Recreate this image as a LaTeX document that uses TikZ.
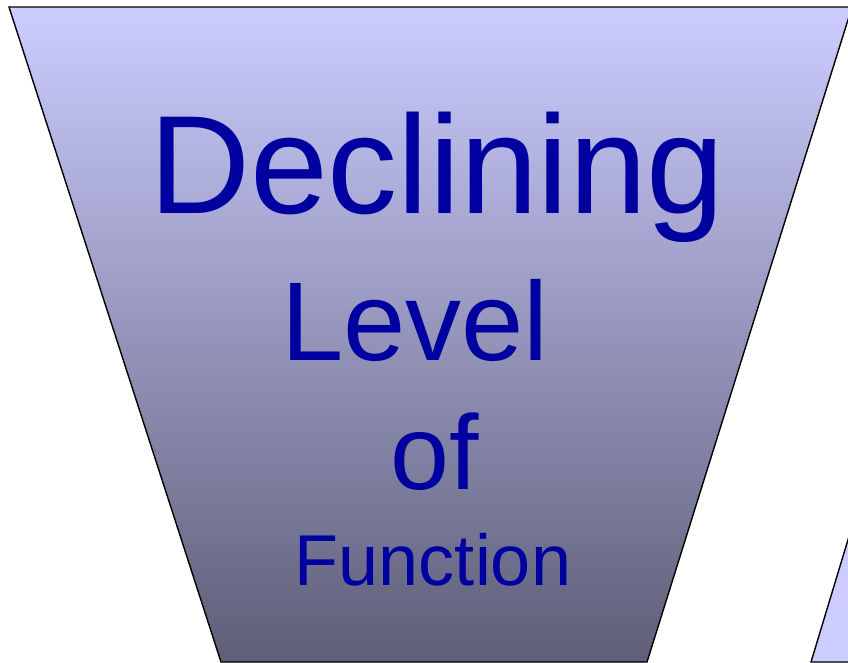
\documentclass[tikz,border=0pt]{standalone}
\usepackage{fontspec}
\setmainfont{Liberation Sans}
\usetikzlibrary{positioning}
\definecolor{lavender}{RGB}{204,204,255}
\definecolor{slate}{RGB}{94,94,120}
\definecolor{inkblue}{RGB}{0,0,160}

\begin{document}
\begin{tikzpicture}[x=1pt,y=-1pt,
  edge/.style={draw=black,line width=1.4pt},
  funnel/.style={edge,top color=lavender,bottom color=slate},
  word/.style={text=inkblue,inner sep=0pt,anchor=base}]
\useasboundingbox (0,0) rectangle (848,662);
\clip (0,0) rectangle (848,662);
% the funnel and the next shape peeking in
\draw[funnel] (9,7) -- (852,7) -- (647,662) -- (221,662) -- cycle;
\draw[edge,fill=lavender] (811,662) -- (870,467) -- (900,467) -- (900,662) -- cycle;
% text
\node[word,font=\fontsize{140}{140}\selectfont] (decl) at (437,213) {Declining};
\node[word,font=\fontsize{112}{112}\selectfont] (level) at (415,360) {Level};
\node[word,font=\fontsize{106}{106}\selectfont] (of) at (435,489) {of};
\node[word,font=\fontsize{72}{72}\selectfont] (func) at (433,585) {Function};
\end{tikzpicture}
\end{document}
